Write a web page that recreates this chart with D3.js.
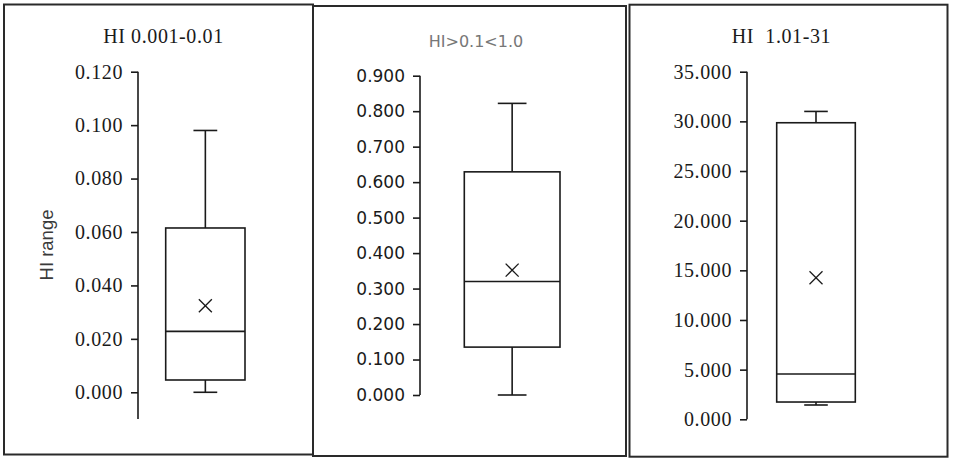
<!DOCTYPE html>
<html>
<head>
<meta charset="utf-8">
<script src="https://cdn.jsdelivr.net/npm/d3@7"></script>
<style>
  body { margin: 0; background: #fff; }
  .frame { fill: none; stroke: #2a2a2a; stroke-width: 2; }
  .box line, .box rect { stroke: #1a1a1a; stroke-width: 1.6; fill: none; }
  .axis path, .axis line { stroke: #1a1a1a; stroke-width: 1.6; }
  .serif text { font-family: "Liberation Serif", "Times New Roman", serif; font-size: 20px; letter-spacing: 0.6px; fill: #1a1a1a; }
  .sans text { font-family: "DejaVu Sans", Verdana, sans-serif; font-size: 17px; fill: #1a1a1a; }
  .title { white-space: pre; }
</style>
</head>
<body>
<svg width="954" height="458"></svg>
<script>
var titles = ["HI 0.001-0.01", "HI>0.1<1.0", "HI  1.01-31"];
var mins = [0.000, 0.000, 1.44];
var q1s = [0.0046, 0.135, 1.74];
var medians = [0.0228, 0.320, 4.56];
var q3s = [0.0615, 0.629, 29.86];
var maxs = [0.098, 0.822, 31.0];
var means = [0.0324, 0.352, 14.26];
var ticks1 = [0, 0.02, 0.04, 0.06, 0.08, 0.10, 0.12];
var ticks2 = [0, 0.1, 0.2, 0.3, 0.4, 0.5, 0.6, 0.7, 0.8, 0.9];
var ticks3 = [0, 5, 10, 15, 20, 25, 30, 35];

var svg = d3.select("svg");

// layout of the three panels (positions only)
var panels = [
  {frame: [4, 4.5, 309, 450], axisX: 138, yDomain: [-0.01, 0.12], yRange: [419, 71.7], ticks: ticks1,
   box: [165.7, 245], font: "serif", title: [163.5, 43], titleColor: "#1a1a1a"},
  {frame: [313, 6, 313, 450], axisX: 420, yDomain: [0, 0.9], yRange: [395, 75.7], ticks: ticks2,
   box: [464.3, 560], font: "sans", title: [476, 47], titleColor: "#777"},
  {frame: [629.5, 4.7, 318, 452], axisX: 747, yDomain: [0, 35], yRange: [419.3, 71.7], ticks: ticks3,
   box: [776.7, 855.3], font: "serif", title: [781.5, 43], titleColor: "#1a1a1a"}
];

panels.forEach(function(p, i) {
  var g = svg.append("g").attr("class", p.font);

  g.append("rect")
      .attr("class", "frame")
      .attr("x", p.frame[0])
      .attr("y", p.frame[1])
      .attr("width", p.frame[2])
      .attr("height", p.frame[3]);

  var y = d3.scaleLinear().domain(p.yDomain).range(p.yRange);
  var x = d3.scaleBand().domain([titles[i]]).range(p.box).padding(0);

  g.append("g")
      .attr("class", "axis")
      .attr("transform", "translate(" + p.axisX + ",0)")
      .call(d3.axisLeft(y).tickValues(p.ticks).tickSize(7).tickPadding(8)
        .tickFormat(d3.format(".3f")))
      .call(function(a) { a.select(".domain").attr("d", "M0," + y.range()[0] + "V" + y.range()[1]); });

  g.append("text")
      .attr("class", "title")
      .attr("x", p.title[0])
      .attr("y", p.title[1])
      .attr("text-anchor", "middle")
      .style("fill", p.titleColor)
      .style("font-size", i == 1 ? "16px" : null)
      .text(titles[i]);

  var b = g.append("g").attr("class", "box");
  var x0 = x(titles[i]), bw = x.bandwidth(), cx = x0 + bw / 2, cap = bw * 0.3;

  // whiskers
  b.append("line").attr("x1", cx).attr("x2", cx).attr("y1", y(maxs[i])).attr("y2", y(q3s[i]));
  b.append("line").attr("x1", cx).attr("x2", cx).attr("y1", y(q1s[i])).attr("y2", y(mins[i]));
  b.append("line").attr("x1", cx - cap / 2).attr("x2", cx + cap / 2).attr("y1", y(maxs[i])).attr("y2", y(maxs[i]));
  b.append("line").attr("x1", cx - cap / 2).attr("x2", cx + cap / 2).attr("y1", y(mins[i])).attr("y2", y(mins[i]));

  b.append("rect")
      .attr("x", x0)
      .attr("y", y(q3s[i]))
      .attr("width", bw)
      .attr("height", y(q1s[i]) - y(q3s[i]));

  b.append("line").attr("x1", x0).attr("x2", x0 + bw).attr("y1", y(medians[i])).attr("y2", y(medians[i]));

  // mean marker
  var m = y(means[i]), s = 6.5;
  b.append("line").attr("x1", cx - s).attr("x2", cx + s).attr("y1", m - s).attr("y2", m + s).style("stroke-width", 1.3);
  b.append("line").attr("x1", cx - s).attr("x2", cx + s).attr("y1", m + s).attr("y2", m - s).style("stroke-width", 1.3);
});

svg.append("text")
    .attr("transform", "translate(53,245) rotate(-90)")
    .attr("text-anchor", "middle")
    .style("font-family", "'Liberation Sans', Arial, sans-serif")
    .style("font-size", "18.5px")
    .style("fill", "#3a3a3a")
    .text("HI range");
</script>
</body>
</html>
